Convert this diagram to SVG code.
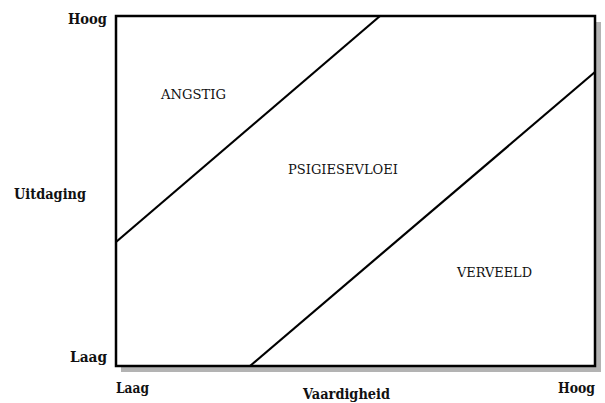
<svg xmlns="http://www.w3.org/2000/svg" width="605" height="403" viewBox="0 0 605 403">
<style>
.ax{font-family:"DejaVu Serif","Liberation Serif",serif;font-weight:bold;font-size:14px;fill:#111}
.lb{font-family:"DejaVu Serif","Liberation Serif",serif;font-size:13.5px;fill:#111}
.frame{fill:#fff;stroke:#000;stroke-width:2.5}
.sh{fill:#b3b3b3}
.ln{stroke:#000;stroke-width:2.2;fill:none}
</style>
<rect width="605" height="403" fill="#fff"/>
<g id="chart">
<rect class="sh" x="121" y="22" width="480" height="350"/>
<rect class="frame" x="116" y="16" width="479" height="350"/>
</g>
<g id="connectors">
<line class="ln" x1="116" y1="242" x2="380" y2="16"/>
<line class="ln" x1="250" y1="366" x2="595" y2="72"/>
</g>
<g id="regions">
<text class="lb" x="161" y="99" textLength="65" lengthAdjust="spacingAndGlyphs">ANGSTIG</text>
<text class="lb" x="288" y="174" textLength="110" lengthAdjust="spacingAndGlyphs">PSIGIESEVLOEI</text>
<text class="lb" x="457" y="277" textLength="75" lengthAdjust="spacingAndGlyphs">VERVEELD</text>
</g>
<g id="axes">
<text class="ax" x="68" y="24" textLength="39" lengthAdjust="spacingAndGlyphs">Hoog</text>
<text class="ax" x="14" y="199" textLength="72" lengthAdjust="spacingAndGlyphs">Uitdaging</text>
<text class="ax" x="70" y="362" textLength="37" lengthAdjust="spacingAndGlyphs">Laag</text>
<text class="ax" x="116" y="393" textLength="33" lengthAdjust="spacingAndGlyphs">Laag</text>
<text class="ax" x="303" y="399" textLength="87" lengthAdjust="spacingAndGlyphs">Vaardigheid</text>
<text class="ax" x="558" y="393" textLength="37" lengthAdjust="spacingAndGlyphs">Hoog</text>
</g>
</svg>
